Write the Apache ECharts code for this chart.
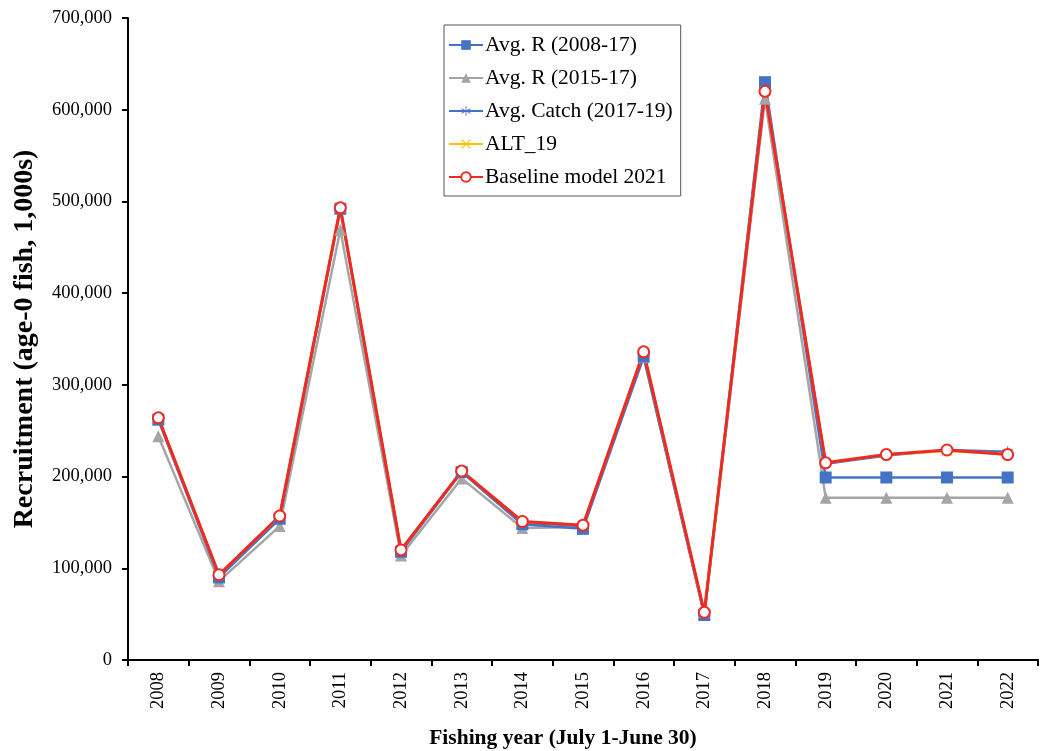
<!DOCTYPE html>
<html>
<head>
<meta charset="utf-8">
<script src="https://cdn.jsdelivr.net/npm/echarts@6/dist/echarts.min.js"></script>
<style>html,body{margin:0;padding:0;background:#fff}#c{width:1045px;height:751px}</style>
</head>
<body>
<div id="c"></div>
<script>
const years = ['2008','2009','2010','2011','2012','2013','2014','2015','2016','2017','2018','2019','2020','2021','2022'];
const avgR0817 = [262000, 90000, 154000, 492000, 118000, 205000, 148000, 143000, 331000, 49000, 630000, 199000, 199000, 199000, 199000];
const avgR1517 = [244000, 86000, 146000, 469000, 114000, 198000, 144000, 145000, 330000, 49000, 612000, 177000, 177000, 177000, 177000];
const avgCatch = [264000, 92000, 156000, 493000, 119000, 206000, 150000, 146000, 334000, 51000, 620000, 214000, 223000, 229000, 227000];
const alt19 = [264000, 93000, 157000, 493000, 120000, 206000, 151000, 147000, 336000, 51000, 620000, 215000, 224000, 228000, 225000];
const baseline = [264000, 93000, 157000, 493000, 120000, 206000, 151000, 147000, 336000, 52000, 620000, 215000, 224000, 229000, 224000];
const yTicks = [0, 100000, 200000, 300000, 400000, 500000, 600000, 700000];

const font = '"Liberation Serif", "Times New Roman", serif';
const chart = echarts.init(document.getElementById('c'));
const asterisk = 'path://M-0.8,-10L0.8,-10L0.8,10L-0.8,10Z' +
  'M8.26,5.69L9.06,4.31L-8.26,-5.69L-9.06,-4.31Z' +
  'M9.06,-4.31L8.26,-5.69L-9.06,4.31L-8.26,5.69Z';
const cross = 'path://M9,11L11,9L-9,-11L-11,-9Z M11,-9L9,-11L-11,9L-9,11Z';

chart.setOption({
  animation: false,
  textStyle: {fontFamily: font},
  grid: {left: 128, right: 7, top: 18, bottom: 91, containLabel: false, outerBoundsMode: 'none'},
  legend: {
    orient: 'vertical',
    left: 444, top: 25,
    width: 238,
    padding: [9, 8, 8, 4],
    itemGap: 11,
    itemWidth: 34, itemHeight: 12,
    borderColor: '#555', borderWidth: 1,
    textStyle: {fontFamily: font, fontSize: 21.5, color: '#000', padding: [0, 0, 0, -3]},
    data: ['Avg. R (2008-17)', 'Avg. R (2015-17)', 'Avg. Catch (2017-19)', 'ALT_19', 'Baseline model 2021']
  },
  xAxis: {
    type: 'category',
    data: years,
    boundaryGap: true,
    name: 'Fishing year (July 1-June 30)',
    nameLocation: 'middle',
    nameGap: 67,
    nameTextStyle: {fontFamily: font, fontSize: 21.5, fontWeight: 'bold', color: '#000', padding: [0, 40, 0, 0]},
    axisLine: {lineStyle: {color: '#000', width: 2}},
    axisTick: {show: true, length: 6, lineStyle: {color: '#000', width: 2}},
    axisLabel: {rotate: 90, fontFamily: font, fontSize: 18.5, color: '#000', margin: 12}
  },
  yAxis: {
    type: 'value',
    min: 0, max: 700000, interval: 100000,
    name: 'Recruitment (age-0 fish, 1,000s)',
    nameLocation: 'middle',
    nameGap: 89,
    nameTextStyle: {fontFamily: font, fontSize: 28, fontWeight: 'bold', color: '#000'},
    splitLine: {show: false},
    axisLine: {show: true, lineStyle: {color: '#000', width: 2}},
    axisTick: {show: true, length: 6, lineStyle: {color: '#000', width: 2}},
    axisLabel: {fontFamily: font, fontSize: 18.5, color: '#000', margin: 16,
      formatter: v => yTicks.includes(v) ? v.toLocaleString('en-US') : ''}
  },
  series: [
    {name: 'Avg. R (2015-17)', type: 'line', data: avgR1517, symbol: 'triangle', symbolSize: 12,
      lineStyle: {color: '#a5a5a5', width: 2.5}, itemStyle: {color: '#a5a5a5'}},
    {name: 'Avg. R (2008-17)', type: 'line', data: avgR0817, symbol: 'rect', symbolSize: 12,
      lineStyle: {color: '#4472c4', width: 2.5}, itemStyle: {color: '#4472c4'}},
    {name: 'Avg. Catch (2017-19)', type: 'line', data: avgCatch, symbol: asterisk, symbolSize: 11,
      lineStyle: {color: '#4472c4', width: 2.5}, itemStyle: {color: '#4472c4'}},
    {name: 'ALT_19', type: 'line', data: alt19, symbol: cross, symbolSize: 10,
      lineStyle: {color: '#ffc000', width: 2.5}, itemStyle: {color: '#ffc000'}},
    {name: 'Baseline model 2021', type: 'line', data: baseline, symbol: 'emptyCircle', symbolSize: 11,
      lineStyle: {color: '#ee2a24', width: 3}, itemStyle: {color: '#ee2a24', borderWidth: 1.2}}
  ]
});
</script>
</body>
</html>
